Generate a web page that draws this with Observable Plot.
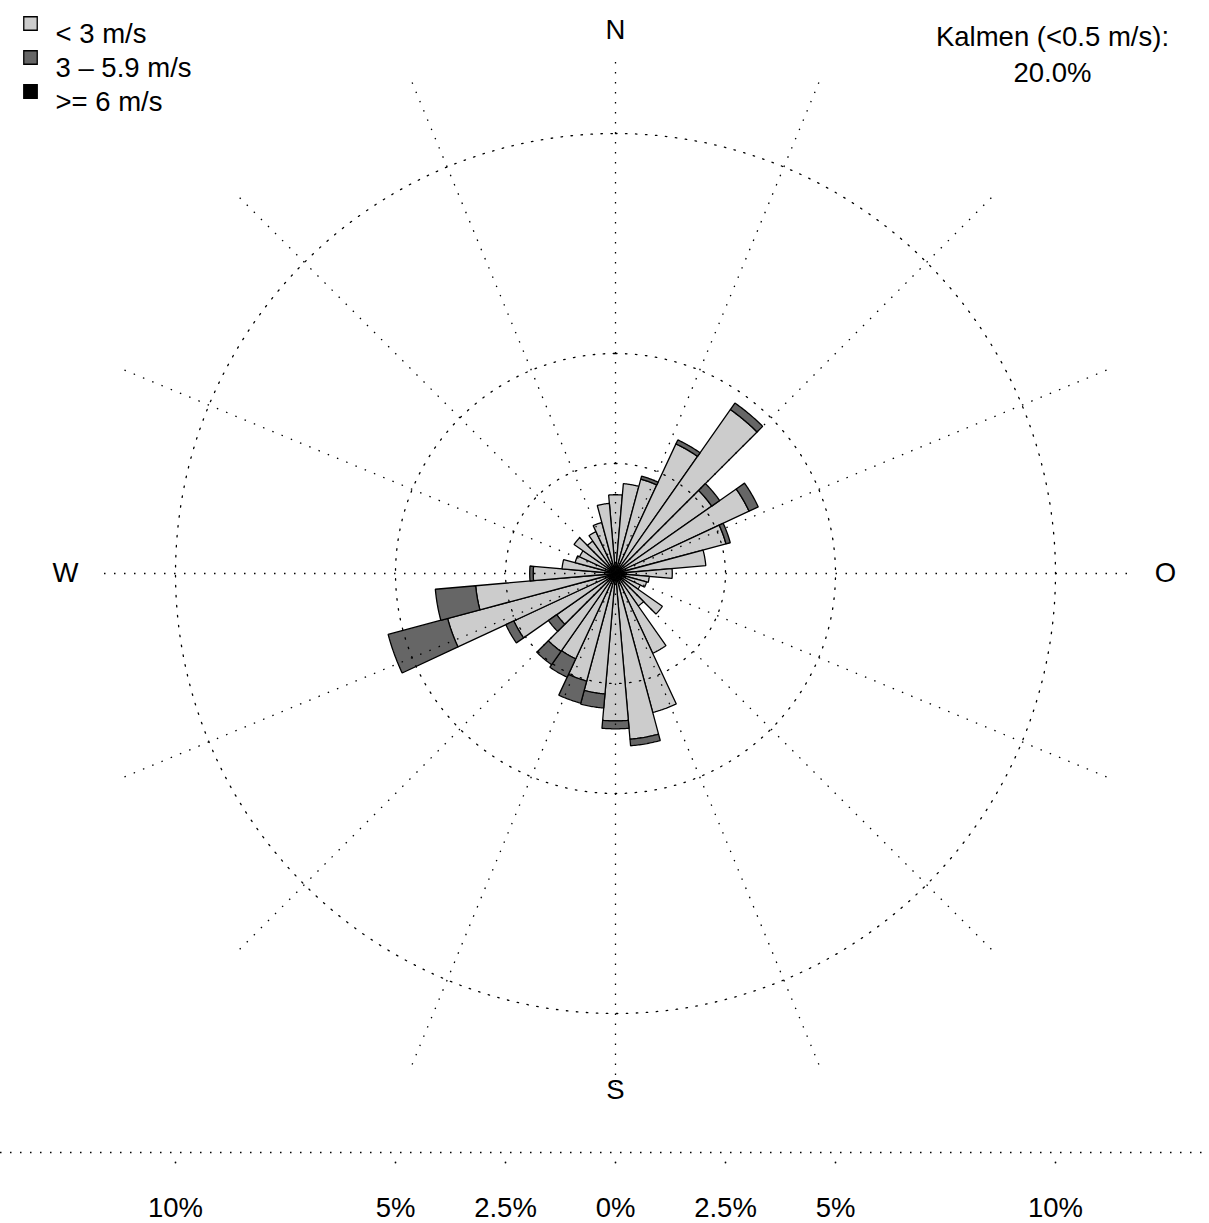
<!DOCTYPE html>
<html><head><meta charset="utf-8">
<script src="https://cdn.jsdelivr.net/npm/d3@7"></script>
<script src="https://cdn.jsdelivr.net/npm/@observablehq/plot@0.6"></script>
<style>html,body{margin:0;padding:0;background:#fff} svg{display:block}</style>
</head><body><div id="chart"></div>
<script>
// ---- data ----
const directions = [0,10,20,30,40,50,60,70,80,90,100,110,120,130,140,150,160,170,180,190,200,210,220,230,240,250,260,270,280,290,300,310,320,330,340,350];
const lowSpeed  = [1.79,2.05,2.22,3.25,4.55,2.67,3.35,2.60,2.06,1.29,0.77,0.73,0.62,1.30,0.90,2.00,3.27,3.78,3.35,2.75,2.53,2.14,2.16,1.63,2.55,3.95,3.19,1.87,1.22,0.95,0.90,1.15,0.90,1.05,1.20,1.60];
const midSpeed  = [0,0,0.07,0.10,0.18,0.22,0.23,0.10,0,0,0,0,0,0,0,0,0,0.15,0.18,0.32,0.52,0.46,0.37,0.23,0.20,1.40,0.92,0.08,0,0,0,0,0,0,0,0];
const highSpeed = [0,0,0,0,0,0,0,0,0,0,0,0,0,0,0,0,0,0,0,0,0,0,0,0,0,0,0,0,0,0,0,0,0,0,0,0];
const classes = ["< 3 m/s", "3 \u2013 5.9 m/s", ">= 6 m/s"];
const classColors = ["#cccccc", "#666666", "#000000"];
const ringValues = [2.5, 5, 10];
const axisTicks = [-10, -5, -2.5, 0, 2.5, 5, 10];
const compassLabels = ["N", "O", "S", "W"];
const compassAngles = [0, 90, 180, 270];
const spokeAngles = [0,22.5,45,67.5,90,112.5,135,157.5,180,202.5,225,247.5,270,292.5,315,337.5];
const calmLabel = "Kalmen (<0.5 m/s):";
const calmPercent = 20.0;

// ---- layout ----
const W = 1209, H = 1223;
const pxPerUnit = 44, cx = 615, cy = 573, frameBottom = 1152;
const spokeLength = 12.25, cardinalSpokeLength = 11.7;
const labelRadius = 12.5;
const rad = Math.PI / 180;
const halfWidth = 5;
const dotted = "1.5 8.5";
const fs = 27.5;

// wedge polygons (stacked classes)
const series = [lowSpeed, midSpeed, highSpeed];
const wedgePts = [[], [], []];
directions.forEach((dir, i) => {
  let r0 = 0;
  series.forEach((s, k) => {
    const v = s[i];
    if (!(v > 0)) return;
    const r1 = r0 + v;
    const id = dir + "-" + k;
    for (let a = dir - halfWidth; a <= dir + halfWidth + 1e-9; a += 0.5)
      wedgePts[k].push({id, x: r1 * Math.sin(a * rad), y: r1 * Math.cos(a * rad)});
    if (r0 > 0) {
      for (let a = dir + halfWidth; a >= dir - halfWidth - 1e-9; a -= 0.5)
        wedgePts[k].push({id, x: r0 * Math.sin(a * rad), y: r0 * Math.cos(a * rad)});
    } else wedgePts[k].push({id, x: 0, y: 0});
    r0 = r1;
  });
});

const ringPts = [];
ringValues.forEach(r => { for (let a = 0; a < 360; a += 1) ringPts.push({ring: r, x: r * Math.sin(a * rad), y: r * Math.cos(a * rad)}); });

const yMin = -(frameBottom - cy) / pxPerUnit, yMax = cy / pxPerUnit;
const xMin = -cx / pxPerUnit, xMax = (W - cx) / pxPerUnit;
const spokeLen = a => (a % 90 === 0 ? cardinalSpokeLength : spokeLength);
// small vertical nudges of the compass letters (pixels), as in the reference
const labelNudge = {N: 7, O: 0, S: -33, W: 0};

const marks = [];
classes.forEach((c, k) => {
  marks.push(Plot.line(wedgePts[k], {x: "x", y: "y", z: "id", curve: "linear-closed", fill: classColors[k], stroke: "black", strokeWidth: 1.3, strokeLinejoin: "miter"}));
});
marks.push(Plot.line(ringPts, {x: "x", y: "y", z: "ring", curve: "linear-closed", stroke: "black", strokeWidth: 1.3, strokeDasharray: dotted}));
marks.push(Plot.link(spokeAngles, {x1: () => 0, y1: () => 0, x2: a => spokeLen(a) * Math.sin(a * rad), y2: a => spokeLen(a) * Math.cos(a * rad), stroke: "black", strokeWidth: 1.3, strokeDasharray: dotted}));
compassLabels.forEach((lab, i) => {
  marks.push(Plot.text([lab], {
    x: () => labelRadius * Math.sin(compassAngles[i] * rad),
    y: () => labelRadius * Math.cos(compassAngles[i] * rad),
    dy: labelNudge[lab],
    text: d => d, fontSize: fs, fill: "black"
  }));
});
marks.push(Plot.ruleY([yMin], {stroke: "black", strokeWidth: 1.3, strokeDasharray: dotted}));
marks.push(Plot.dot(axisTicks, {x: d => d, y: () => yMin, dy: 10, r: 0.9, fill: "black", stroke: null}));
marks.push(Plot.axisX({ticks: axisTicks, tickFormat: d => Math.abs(d) + "%", tickSize: 0, tickPadding: 45, fontSize: fs, anchor: "bottom", label: null}));
classes.forEach((c, k) => {
  marks.push(Plot.dot([c], {frameAnchor: "top-left", dx: 30, dy: 23 + k * 34, symbol: "square", r: 7.6, fill: classColors[k], stroke: "black", strokeWidth: 1.3}));
  marks.push(Plot.text([c], {frameAnchor: "top-left", dx: 55, dy: 23 + k * 34, text: d => d, textAnchor: "start", fontSize: fs, fill: "black"}));
});
marks.push(Plot.text([calmLabel + "\n" + calmPercent.toFixed(1) + "%"], {frameAnchor: "top-right", dx: -157, dy: 20, text: d => d, lineAnchor: "top", textAnchor: "middle", lineHeight: 1.3, fontSize: fs, fill: "black"}));

const chart = Plot.plot({
  width: W, height: H,
  marginTop: 0, marginLeft: 0, marginRight: 0, marginBottom: H - frameBottom,
  x: {domain: [xMin, xMax], axis: null},
  y: {domain: [yMin, yMax], axis: null},
  style: {fontFamily: "'Liberation Sans', Arial, sans-serif", fontSize: fs + "px", color: "black", background: "white"},
  marks
});
document.getElementById("chart").appendChild(chart);
</script>
</body></html>
